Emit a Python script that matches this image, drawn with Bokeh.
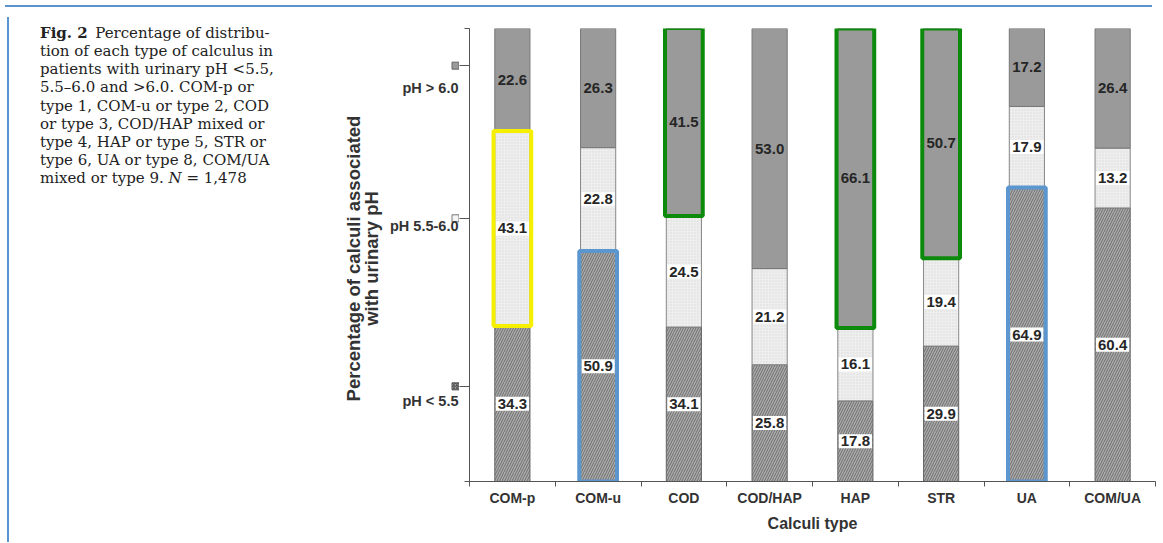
from bokeh.plotting import figure
from bokeh.models import Range1d, FixedTicker, ColumnDataSource, Div
from bokeh.layouts import row, column
from bokeh.embed import file_html
from bokeh.resources import INLINE
from bokeh.core.properties import value
import math

# ---------------- data ----------------
categories = ["COM-p", "COM-u", "COD", "COD/HAP", "HAP", "STR", "UA", "COM/UA"]
ph_low = [34.3, 50.9, 34.1, 25.8, 17.8, 29.9, 64.9, 60.4]    # pH < 5.5
ph_mid = [43.1, 22.8, 24.5, 21.2, 16.1, 19.4, 17.9, 13.2]    # pH 5.5-6.0
ph_high = [22.6, 26.3, 41.5, 53.0, 66.1, 50.7, 17.2, 26.4]   # pH > 6.0
series_names = ["pH < 5.5", "pH 5.5-6.0", "pH > 6.0"]
legend_marker_pos = [21.0, 58.1, 91.8]     # legend markers on the y axis (percent scale)
legend_label_pos = [17.7, 56.3, 86.9]
highlights = [("COM-p", 1, "#f6ef00"), ("COM-u", 0, "#5b96cf"), ("COD", 2, "#0c8a0c"),
              ("HAP", 2, "#0c8a0c"), ("STR", 2, "#0c8a0c"), ("UA", 0, "#5b96cf")]
caption_html = ("<b>Fig. 2</b>&ensp;Percentage of distribu-<br>"
                "tion of each type of calculus in<br>"
                "patients with urinary pH &lt;5.5,<br>"
                "5.5\u20136.0 and &gt;6.0. COM-p or<br>"
                "type 1, COM-u or type 2, COD<br>"
                "or type 3, COD/HAP mixed or<br>"
                "type 4, HAP or type 5, STR or<br>"
                "type 6, UA or type 8, COM/UA<br>"
                "mixed or type 9. <i>N</i> = 1,478")
y_title = ["Percentage of calculi associated", "with urinary pH"]
x_title = "Calculi type"

# ---------------- layout constants ----------------
OFF = 8                      # page margin
TOP = 2                      # height of the top rule strip
ROW_H = 525
CAP_W, LEG_W, MAIN_W = 322, 127, 698
BL, BR, BT, BB = 10, 2, 16, 56
NX = len(categories)
FW, FH = MAIN_W - BL - BR, ROW_H - BT - BB
FRAME_BOTTOM = OFF + TOP + BT + FH      # page y of the 0 % line
SY = FH / 100.0
BLUE = "#5b93d1"
LEG_X0 = OFF + CAP_W                    # page x of the legend panel's left edge
LEG_X1 = LEG_X0 + LEG_W


def dy(page_y):
    return (FRAME_BOTTOM - page_y) / SY


# ---------------- top rule ----------------
TW = CAP_W + LEG_W + MAIN_W
top_rule = Div(width=TW, height=TOP,
               text=f'<div style="position:absolute;left:0;top:0;width:{TW}px;'
                    f'height:2px;background:{BLUE}"></div>')

# ---------------- caption ----------------
cap = Div(width=CAP_W, height=ROW_H,
          text=f'<div style="position:absolute;left:2px;top:0;width:{CAP_W - 2}px;height:{ROW_H}px;'
               f'box-sizing:border-box;border-left:2px solid {BLUE};padding-left:31px;padding-top:7px;'
               f'font-family:\'DejaVu Serif\';font-size:15px;line-height:18.15px;color:#222;'
               f'white-space:nowrap">{caption_html}</div>')

# ---------------- main chart ----------------
p = figure(width=MAIN_W, height=ROW_H, x_range=Range1d(0, NX), y_range=Range1d(0, 100),
           output_backend="svg", toolbar_location=None,
           min_border_left=BL, min_border_right=BR, min_border_top=BT, min_border_bottom=BB)
p.grid.visible = False
p.outline_line_color = None

# ---------------- y-axis legend / title panel (frame aligned with the chart's frame) ----------------
q = figure(width=LEG_W, height=ROW_H, x_range=Range1d(LEG_X0, LEG_X1), y_range=p.y_range,
           output_backend="svg", toolbar_location=None, x_axis_location=None, y_axis_location=None,
           min_border_left=0, min_border_right=0, min_border_top=BT, min_border_bottom=BB)
q.grid.visible = False
q.outline_line_color = None

msrc = ColumnDataSource(dict(
    x=[LEG_X1 - 4] * 3, y=legend_marker_pos,
    fill=["#a0a0a0", "#f4f4f4", "#9a9a9a"], hatch=["/", " ", " "],
    line=["#555555", "#777777", "#666666"]))
q.scatter(x="x", y="y", source=msrc, marker="square", size=7, fill_color="fill",
          hatch_pattern="hatch", hatch_color="#444444", hatch_scale=3, line_color="line")

q.text(x=[LEG_X1 - 1] * 3, y=legend_label_pos, text=series_names, text_align="right",
       text_baseline="middle", text_font=value("Liberation Sans"), text_font_style="bold",
       text_font_size="14.5px", text_color="#333333")

q.text(x=[351, 369], y=[dy(256)] * 2, text=y_title, angle=math.pi / 2, text_align="center",
       text_baseline="middle", text_font=value("Liberation Sans"), text_font_style="bold",
       text_font_size="18.5px", text_color="#333333")

# ---------------- bars ----------------
xs = [i + 0.5 for i in range(NX)]
c1 = [a for a in ph_low]
c2 = [a + b for a, b in zip(ph_low, ph_mid)]
c3 = [a + b + c for a, b, c in zip(ph_low, ph_mid, ph_high)]
src = ColumnDataSource(dict(
    x=xs, z=[0] * NX, c1=c1, c2=c2, c3=c3,
    y_low=[a / 2 for a in c1],
    y_mid=[(a + b) / 2 for a, b in zip(c1, c2)],
    y_high=[(a + b) / 2 for a, b in zip(c2, c3)],
    t_low=[f"{v:.1f}" for v in ph_low],
    t_mid=[f"{v:.1f}" for v in ph_mid],
    t_high=[f"{v:.1f}" for v in ph_high],
))
BW = 0.41
p.vbar(x="x", bottom="z", top="c1", width=BW, source=src, fill_color="#ababab",
       hatch_pattern="/", hatch_color="#6e6e6e", hatch_scale=5, hatch_weight=1,
       line_color="#666666", line_width=1)
p.vbar(x="x", bottom="c1", top="c2", width=BW, source=src, fill_color="#eeeeee",
       hatch_pattern=".", hatch_color="#d8d8d8", hatch_scale=3, hatch_weight=1,
       line_color="#888888", line_width=1)
p.vbar(x="x", bottom="c2", top="c3", width=BW, source=src, fill_color="#9a9a9a",
       line_color="#777777", line_width=1)

# value labels
for ycol, tcol, bg in [("y_low", "t_low", "white"), ("y_mid", "t_mid", "white"), ("y_high", "t_high", None)]:
    p.text(x="x", y=ycol, text=tcol, source=src, text_align="center", text_baseline="middle",
           text_font=value("Liberation Sans"), text_font_style="bold", text_font_size="15px",
           text_color="#262626", background_fill_color=bg, padding=2)

# highlight boxes
segs = [(None, c1), (c1, c2), (c2, c3)]
hl = dict(l=[], r=[], b=[], t=[], c=[])
for cat, s, col in highlights:
    i = categories.index(cat)
    lo = 0 if s == 0 else segs[s][0][i]
    hi = segs[s][1][i]
    hl["l"].append(xs[i] - 0.22)
    hl["r"].append(xs[i] + 0.22)
    hl["b"].append(lo)
    hl["t"].append(hi)
    hl["c"].append(col)
p.quad(left="l", right="r", bottom="b", top="t", line_color="c", fill_color=None,
       line_width=4, source=ColumnDataSource(hl))

# x axis
xa = p.xaxis[0]
xa.ticker = FixedTicker(ticks=xs, minor_ticks=list(range(NX + 1)))
xa.major_label_overrides = {x: c for x, c in zip(xs, categories)}
xa.major_tick_out = 0
xa.major_tick_in = 0
xa.minor_tick_out = 5
xa.minor_tick_in = 0
xa.axis_line_color = "#555555"
xa.minor_tick_line_color = "#555555"
xa.major_label_text_font = "Liberation Sans"
xa.major_label_text_font_style = "bold"
xa.major_label_text_font_size = "14px"
xa.major_label_text_color = "#333333"
xa.major_label_standoff = 3
xa.axis_label = x_title
xa.axis_label_text_font = "Liberation Sans"
xa.axis_label_text_font_style = "bold"
xa.axis_label_text_font_size = "16px"
xa.axis_label_text_color = "#333333"
xa.axis_label_standoff = 6

# y axis: ticks at 0/100 and at the legend markers, no numbers
ya = p.yaxis[0]
ya.ticker = FixedTicker(ticks=legend_marker_pos, minor_ticks=[0, 100])
ya.major_label_overrides = {v: "" for v in legend_marker_pos}
ya.major_label_text_font_size = "0px"
ya.major_label_standoff = 0
ya.major_tick_out = 10
ya.major_tick_in = 0
ya.minor_tick_out = 5
ya.minor_tick_in = 0
ya.axis_line_color = "#555555"
ya.major_tick_line_color = "#555555"
ya.minor_tick_line_color = "#555555"

layout = column(top_rule, row(cap, q, p, spacing=0), spacing=0)
open("out.html", "w").write(file_html(layout, INLINE))
